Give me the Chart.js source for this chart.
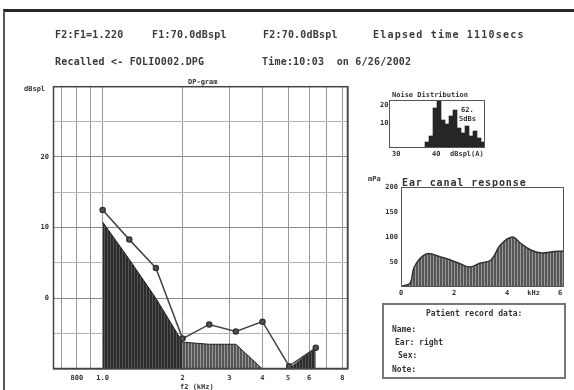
<!DOCTYPE html>
<html>
<head>
<meta charset="utf-8">
<script src="https://cdn.jsdelivr.net/npm/chart.js@4"></script>
<style>
  html, body { margin: 0; padding: 0; background: #fff; }
  body { width: 574px; height: 390px; overflow: hidden; position: relative; font-family: 'DejaVu Sans Mono', monospace; color: #333; }
  #wrap { position: absolute; left: 0; top: 0; width: 574px; height: 390px; filter: blur(0.4px); }
  #frame { position: absolute; left: 3px; top: 9px; width: 580px; height: 400px; border-top: 3px solid #262626; border-left: 2px solid #555; }
  .t { position: absolute; white-space: pre; font-weight: bold; }
  .hdr { font-size: 10px; letter-spacing: 0.2px; color: #3a3a3a; }
  .sm { font-size: 7px; }
  canvas { position: absolute; }
  #box { position: absolute; left: 382px; top: 303px; width: 180px; height: 72px; border: 2px solid #777; }
</style>
</head>
<body>
<div id="wrap">
<div id="frame"></div>

<div class="t hdr" style="left:55px;top:29px;">F2:F1=1.220</div>
<div class="t hdr" style="left:152px;top:29px;">F1:70.0dBspl</div>
<div class="t hdr" style="left:263px;top:29px;">F2:70.0dBspl</div>
<div class="t hdr" style="left:373px;top:29px;letter-spacing:1.2px;">Elapsed time 1110secs</div>
<div class="t hdr" style="left:55px;top:56px;">Recalled &lt;- FOLIO002.DPG</div>
<div class="t hdr" style="left:262px;top:56px;">Time:10:03  on 6/26/2002</div>

<div class="t sm" style="left:188px;top:78px;">DP-gram</div>
<div class="t sm" style="left:24px;top:85px;">dBspl</div>
<div class="t sm" style="left:180px;top:383px;">f2 (kHz)</div>

<canvas id="dpChart" width="362" height="312" style="left:0;top:78px;width:362px;height:312px;"></canvas>

<div class="t sm" style="left:392px;top:91px;">Noise Distribution</div>
<div class="t sm" style="left:380px;top:101px;">20</div>
<div class="t sm" style="left:380px;top:119px;">10</div>
<div class="t sm" style="left:392px;top:150px;">30</div>
<div class="t sm" style="left:432px;top:150px;">40</div>
<div class="t sm" style="left:450px;top:150px;">dBspl(A)</div>
<div class="t sm" style="left:461px;top:106px;">62.</div>
<div class="t sm" style="left:459px;top:115px;">5dBs</div>
<canvas id="histChart" width="130" height="75" style="left:362px;top:88px;width:130px;height:75px;"></canvas>

<div class="t" style="left:402px;top:177px;font-size:10px;letter-spacing:0.9px;">Ear canal response</div>
<div class="t sm" style="left:368px;top:175px;">mPa</div>
<canvas id="earChart" width="212" height="130" style="left:362px;top:175px;width:212px;height:130px;"></canvas>

<div id="box"></div>
<div class="t" style="left:426px;top:309px;font-size:8px;">Patient record data:</div>
<div class="t" style="left:392px;top:325px;font-size:8px;">Name:</div>
<div class="t" style="left:395px;top:338px;font-size:8px;">Ear: right</div>
<div class="t" style="left:398px;top:351px;font-size:8px;">Sex:</div>
<div class="t" style="left:392px;top:365px;font-size:8px;">Note:</div>
</div>

<script>
// ---- DP-gram data ----
const dpFreqs = [1000, 1260, 1587, 2000, 2520, 3175, 4000, 5040, 6350];
const dpLevels = [12.5, 8.3, 4.3, -5.7, -3.7, -4.7, -3.3, -9.6, -7.0];
const noiseLevels = [10.8, 5.5, 0.0, -6.2, -6.5, -6.5, -10.0, -10.0, -7.0];
const gridFreqs = [650, 700, 800, 900, 1000, 2000, 3000, 4000, 5000, 6000, 7000, 8000, 8400];
const freqLabels = { 800: '800', 1000: '1.0', 2000: '2', 3000: '3', 4000: '4', 5000: '5', 6000: '6', 8000: '8' };
const dbLabels = { 0: '0', 10: '10', 20: '20' };

// ---- noise distribution histogram ----
const histBins = ['','','','','','','','','','','','','','','','','','','','','','','',''];
const histCounts = [0, 0, 0, 0, 0, 0, 0, 0, 0, 6, 12, 40, 48, 28, 24, 32, 38, 20, 15, 22, 12, 17, 10, 6];

// ---- ear canal response ----
const earFreqs = [0.05, 0.35, 0.5, 0.95, 1.5, 1.87, 2.25, 2.6, 3.0, 3.4, 3.75, 4.2, 4.5, 4.9, 5.3, 5.65, 6.15];
const earLevels = [2, 8, 40, 66, 60, 54, 46, 40, 48, 54, 84, 100, 88, 74, 68, 70, 72];
const earTickLabels = { 0: '0', 2: '2', 4: '4', 5: 'kHz', 6: '6' };

Chart.defaults.font.family = "'DejaVu Sans Mono', monospace";
Chart.defaults.font.size = 7;
Chart.defaults.font.weight = 'bold';
Chart.defaults.color = '#333';
Chart.defaults.animation = false;

function stripes(c1, c2) {
    const cv = document.createElement('canvas');
    cv.width = 3; cv.height = 1;
    const g = cv.getContext('2d');
    g.fillStyle = c1; g.fillRect(0, 0, 3, 1);
    g.fillStyle = c2; g.fillRect(2, 0, 1, 1);
    return g.createPattern(cv, 'repeat');
}
const darkFill = stripes('#2b2b2b', '#555');
const midFill = stripes('#555', '#999');

// рамка вокруг области графика
const boxPlugin = {
    id: 'box',
    afterDraw(chart, args, opts) {
        const a = chart.chartArea, ctx = chart.ctx;
        ctx.save();
        ctx.strokeStyle = opts.color || '#333';
        ctx.lineWidth = opts.width || 1;
        ctx.strokeRect(a.left + 0.5, a.top + 0.5, a.right - a.left - 1, a.bottom - a.top - 1);
        ctx.restore();
    }
};

// ===============================
// DP-gram
// ===============================
new Chart(document.getElementById('dpChart'), {
    type: 'line',
    data: {
        datasets: [
            {
                label: 'DP',
                data: dpFreqs.map((f, i) => ({ x: f, y: dpLevels[i] })),
                borderColor: '#444',
                borderWidth: 1.5,
                pointRadius: 2.5,
                pointBackgroundColor: '#555',
                pointBorderColor: '#333',
                fill: false,
                tension: 0,
                order: 0
            },
            {
                label: 'Noise',
                data: dpFreqs.map((f, i) => ({ x: f, y: noiseLevels[i] })),
                borderColor: '#222',
                borderWidth: 1,
                pointRadius: 0,
                fill: 'start',
                backgroundColor: darkFill,
                segment: {
                    backgroundColor: c => (c.p0DataIndex >= 3 && c.p0DataIndex <= 5) ? midFill : darkFill
                },
                tension: 0,
                order: 1
            }
        ]
    },
    options: {
        responsive: false,
        layout: { padding: { left: 0, right: 14, top: 7, bottom: 0 } },
        plugins: { legend: { display: false }, tooltip: { enabled: false }, box: { color: '#444', width: 1.5 } },
        scales: {
            x: {
                type: 'logarithmic',
                min: 650,
                max: 8400,
                afterBuildTicks: s => { s.ticks = gridFreqs.map(v => ({ value: v })); },
                afterFit: s => { s.height = 21; },
                grid: { color: '#999', lineWidth: 1, drawTicks: false },
                border: { display: false },
                ticks: { autoSkip: false, maxRotation: 0, padding: 5, callback: v => freqLabels[v] ?? '' }
            },
            y: {
                min: -10,
                max: 30,
                afterFit: s => { s.width = 53; },
                grid: { color: c => (c.tick.value % 10 === 0 ? '#8a8a8a' : '#b5b5b5'), drawTicks: false },
                border: { display: false },
                ticks: { stepSize: 5, padding: 4, callback: v => dbLabels[v] ?? '' }
            }
        }
    },
    plugins: [boxPlugin]
});

// ===============================
// Noise distribution
// ===============================
new Chart(document.getElementById('histChart'), {
    type: 'bar',
    data: {
        labels: histBins,
        datasets: [{
            data: histCounts,
            backgroundColor: '#262626',
            barPercentage: 1,
            categoryPercentage: 1
        }]
    },
    options: {
        responsive: false,
        layout: { padding: { left: 0, right: 7, top: 12, bottom: 0 } },
        plugins: { legend: { display: false }, tooltip: { enabled: false }, box: { color: '#555', width: 1 } },
        scales: {
            x: { afterFit: s => { s.height = 15; }, grid: { display: false, drawTicks: false }, border: { display: false }, ticks: { display: false } },
            y: { min: 0, max: 48, afterFit: s => { s.width = 27; }, grid: { display: false, drawTicks: false }, border: { display: false }, ticks: { display: false } }
        }
    },
    plugins: [boxPlugin]
});

// ===============================
// Ear canal response
// ===============================
new Chart(document.getElementById('earChart'), {
    type: 'line',
    data: {
        datasets: [{
            data: earFreqs.map((f, i) => ({ x: f, y: earLevels[i] })),
            borderColor: '#333',
            borderWidth: 1.5,
            pointRadius: 0,
            fill: 'start',
            backgroundColor: midFill,
            tension: 0.4
        }]
    },
    options: {
        responsive: false,
        layout: { padding: { left: 0, right: 10, top: 12, bottom: 0 } },
        plugins: { legend: { display: false }, tooltip: { enabled: false }, box: { color: '#555', width: 1 } },
        scales: {
            x: {
                type: 'linear',
                min: 0,
                max: 6.15,
                afterBuildTicks: s => { s.ticks = [0, 2, 4, 5, 6].map(v => ({ value: v })); },
                afterFit: s => { s.height = 18; },
                grid: { display: false, drawTicks: false },
                border: { display: false },
                ticks: { autoSkip: false, maxRotation: 0, padding: 2, callback: v => earTickLabels[v] ?? '' }
            },
            y: {
                min: 0,
                max: 200,
                afterFit: s => { s.width = 39; },
                grid: { display: false, drawTicks: false },
                border: { display: false },
                ticks: { stepSize: 50, padding: 3, callback: v => (v === 0 ? '' : String(v)) }
            }
        }
    },
    plugins: [boxPlugin]
});
</script>
</body>
</html>
